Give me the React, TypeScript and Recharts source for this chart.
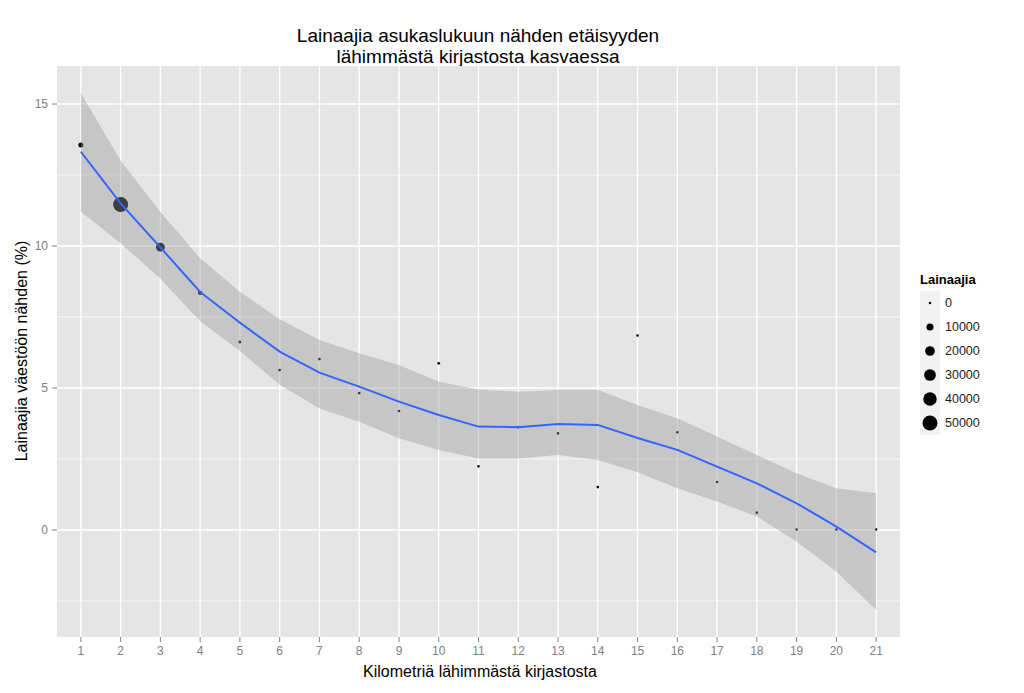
import { ComposedChart, Scatter, Area, Line, XAxis, YAxis, ZAxis, CartesianGrid } from 'recharts';

// km to nearest library (discrete categories 1..21)
const km = [1, 2, 3, 4, 5, 6, 7, 8, 9, 10, 11, 12, 13, 14, 15, 16, 17, 18, 19, 20, 21];
// borrowers as % of population
const ratePct = [13.56, 11.46, 9.96, 8.35, 6.62, 5.63, 6.02, 4.82, 4.19, 5.87, 2.24, 3.62, 3.4, 1.51, 6.85, 3.44, 1.69, 0.61, 0.02, 0.02, 0.02];
// number of borrowers (point size)
const borrowers = [6000, 70000, 23000, 4000, 500, 400, 400, 300, 300, 300, 200, 200, 200, 200, 100, 100, 100, 100, 0, 0, 0];
// loess fit + confidence band
const fit = [13.32, 11.5, 9.95, 8.38, 7.3, 6.28, 5.54, 5.05, 4.52, 4.05, 3.64, 3.62, 3.73, 3.7, 3.24, 2.82, 2.23, 1.64, 0.94, 0.12, -0.79];
const lower = [11.21, 10.1, 8.85, 7.35, 6.3, 5.11, 4.28, 3.81, 3.23, 2.82, 2.52, 2.52, 2.64, 2.46, 2.03, 1.47, 1.0, 0.47, -0.41, -1.47, -2.82];
const upper = [15.39, 13.0, 11.2, 9.57, 8.39, 7.42, 6.69, 6.22, 5.81, 5.22, 4.95, 4.87, 4.93, 4.93, 4.4, 3.93, 3.29, 2.64, 2.0, 1.47, 1.29];

const yTicks = [0, 5, 10, 15];
const yMinor = [-2.5, 2.5, 7.5, 12.5];
const legendValues = [0, 10000, 20000, 30000, 40000, 50000];

const Z_DOMAIN = [0, 50000];
const Z_RANGE = [5, 177];

const points = km.map((x, i) => ({ x, y: ratePct[i], z: borrowers[i] }));
const smooth = km.map((x, i) => ({ x, fit: fit[i], band: [lower[i], upper[i]] }));

const FONT = '"Liberation Sans", Arial, sans-serif';
const TICK = { fill: '#808080', fontSize: 12, fontFamily: FONT };

function legendRadius(v: number) {
  const area = Z_RANGE[0] + ((Z_RANGE[1] - Z_RANGE[0]) * (v - Z_DOMAIN[0])) / (Z_DOMAIN[1] - Z_DOMAIN[0]);
  return Math.sqrt(area / Math.PI);
}

export default function App() {
  return (
    <div style={{ position: 'absolute', left: 0, top: 0, width: 1024, height: 693, background: '#fff', fontFamily: FONT }}>
      <div style={{ position: 'absolute', left: 278, width: 400, top: 25, textAlign: 'center', fontSize: 19, lineHeight: '21px', color: '#000' }}>
        Lainaajia asukaslukuun nähden etäisyyden
        <br />
        lähimmästä kirjastosta kasvaessa
      </div>
      <ComposedChart width={1024} height={693} margin={{ top: 66, right: 124, bottom: 26, left: 0 }}>
        <CartesianGrid fill="#E5E5E5" stroke="#F2F2F2" strokeWidth={1.3} vertical={false} horizontalValues={yMinor} />
        <CartesianGrid stroke="#FFFFFF" strokeWidth={1.4} horizontalValues={yTicks} verticalValues={km} />
        <XAxis
          type="number"
          dataKey="x"
          domain={[0.4, 21.6]}
          ticks={km}
          interval={0}
          allowDataOverflow
          axisLine={false}
          tickLine={{ stroke: '#808080' }}
          tickSize={5}
          tickMargin={4}
          tick={TICK}
          height={30}
        />
        <YAxis
          type="number"
          domain={[-3.77, 16.34]}
          ticks={yTicks}
          allowDataOverflow
          axisLine={false}
          tickLine={{ stroke: '#808080' }}
          tickSize={5}
          tickMargin={4}
          tick={TICK}
          width={57}
        />
        <ZAxis type="number" dataKey="z" domain={Z_DOMAIN} range={Z_RANGE} />
        <Scatter data={points} dataKey="y" fill="#000" shape="circle" isAnimationActive={false} zIndex={50} />
        <Area
          data={smooth}
          dataKey="band"
          type="linear"
          stroke="none"
          fill="#999999"
          fillOpacity={0.4}
          isAnimationActive={false}
          zIndex={100}
        />
        <Line
          data={smooth}
          dataKey="fit"
          type="linear"
          stroke="#3366FF"
          strokeWidth={2}
          dot={false}
          activeDot={false}
          isAnimationActive={false}
          zIndex={400}
        />
      </ComposedChart>
      <div style={{ position: 'absolute', left: 280, width: 400, top: 663, textAlign: 'center', fontSize: 16, color: '#000' }}>
        Kilometriä lähimmästä kirjastosta
      </div>
      <div
        style={{
          position: 'absolute',
          left: 22,
          top: 351,
          transform: 'translate(-50%, -50%) rotate(-90deg)',
          whiteSpace: 'nowrap',
          fontSize: 16,
          color: '#000',
        }}
      >
        Lainaajia väestöön nähden (%)
      </div>
      <div style={{ position: 'absolute', left: 920, top: 272 }}>
        <div style={{ fontSize: 13, fontWeight: 'bold', color: '#000', marginBottom: 4 }}>Lainaajia</div>
        {legendValues.map((v) => (
          <div key={v} style={{ display: 'flex', alignItems: 'center', height: 24 }}>
            <div style={{ width: 20, height: 24, background: '#F2F2F2', display: 'flex', alignItems: 'center', justifyContent: 'center' }}>
              <svg width={18} height={18}>
                <circle cx={9} cy={9} r={legendRadius(v)} fill="#000" />
              </svg>
            </div>
            <span style={{ marginLeft: 5, fontSize: 12.5, color: '#1a1a1a' }}>{v}</span>
          </div>
        ))}
      </div>
    </div>
  );
}
